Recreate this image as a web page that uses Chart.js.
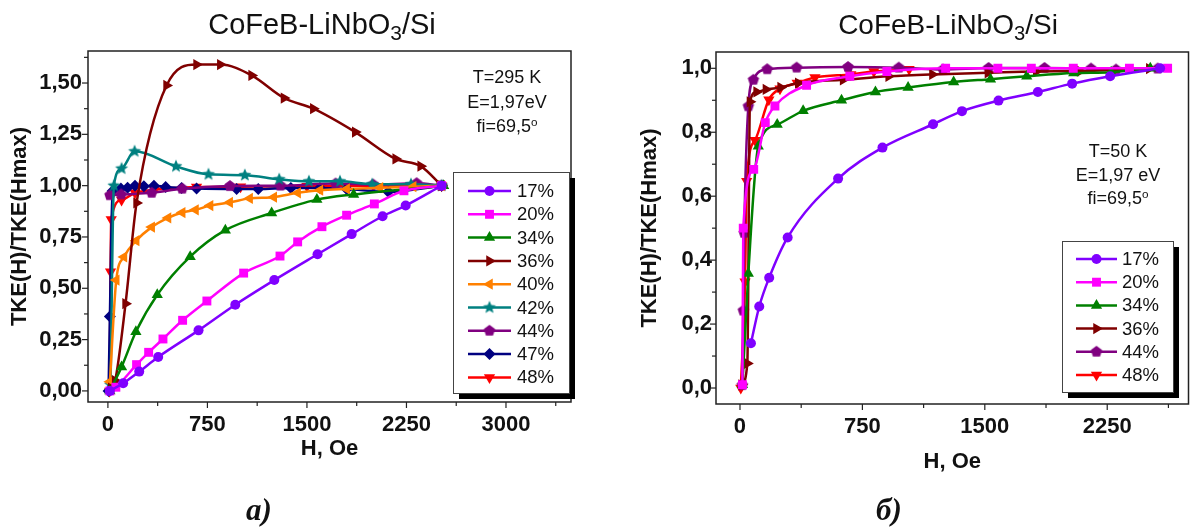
<!DOCTYPE html>
<html>
<head>
<meta charset="utf-8">
<script src="https://cdn.jsdelivr.net/npm/chart.js@4.4.0/dist/chart.umd.min.js"></script>
<style>
  html, body { margin: 0; padding: 0; background: #fff; }
  #wrap { position: relative; width: 1195px; height: 529px; overflow: hidden;
          font-family: "Liberation Sans", Arial, sans-serif; color: #111; }
  canvas { position: absolute; top: 0; }
  .title { position: absolute; font-size: 28px; line-height: 1; white-space: nowrap; transform: translateX(-50%); }
  .title sub { font-size: 0.72em; vertical-align: -0.3em; line-height: 0; }
  .note { position: absolute; font-size: 18px; text-align: center; white-space: nowrap; transform: translateX(-50%); }
  .note .sup { font-size: 0.65em; position: relative; top: -0.55em; }
  .cap { position: absolute; font-family: "Liberation Serif", "Times New Roman", serif; font-weight: bold;
         font-style: italic; font-size: 31px; line-height: 1; transform: translateX(-50%); }
</style>
</head>
<body>
<div id="wrap">
  <canvas id="chartA" width="597" height="529" style="left:0"></canvas>
  <canvas id="chartB" width="597" height="529" style="left:598px"></canvas>

  <div class="title" style="left:322px; top:10px; font-size:29px">CoFeB-LiNbO<sub>3</sub>/Si</div>
  <div class="title" style="left:948px; top:11px">CoFeB-LiNbO<sub>3</sub>/Si</div>

  <div class="note" style="left:507px; top:65px; line-height:24.5px">T=295 K<br>E=1,97eV<br>fi=69,5<span class="sup">o</span></div>
  <div class="note" style="left:1118px; top:140px; line-height:23.5px">T=50 K<br>E=1,97 eV<br>fi=69,5<span class="sup">o</span></div>

  <div class="cap" style="left:259px; top:494px">а)</div>
  <div class="cap" style="left:889px; top:494px">б)</div>
</div>

<script>
// ---------- panel а): T = 295 K ----------
const A_LABELS = ["17%", "20%", "34%", "36%", "40%", "42%", "44%", "47%", "48%"];

const A17_H = [15, 115, 236, 379, 683, 960, 1254, 1580, 1837, 2070, 2244, 2515];
const A17_R = [0.0, 0.037, 0.094, 0.165, 0.295, 0.42, 0.54, 0.666, 0.764, 0.851, 0.903, 1.0];
const A20_H = [15, 60, 216, 307, 415, 563, 746, 1023, 1297, 1430, 1613, 1799, 2008, 2231, 2515];
const A20_R = [0.0, 0.018, 0.128, 0.188, 0.253, 0.344, 0.438, 0.574, 0.657, 0.726, 0.8, 0.856, 0.911, 0.975, 1.0];
const A34_H = [15, 103, 211, 372, 620, 885, 1234, 1575, 1852, 2530];
const A34_R = [0.0, 0.117, 0.288, 0.468, 0.654, 0.783, 0.867, 0.932, 0.957, 1.0];
const A36_H = [25, 55, 133, 216, 442, 668, 847, 1083, 1327, 1548, 1864, 2169, 2357, 2515];
const A36_R = [0.013, 0.05, 0.425, 0.916, 1.488, 1.59, 1.59, 1.537, 1.427, 1.375, 1.261, 1.13, 1.095, 1.0];
const A40_H = [15, 63, 121, 213, 330, 453, 560, 660, 770, 918, 1068, 1250, 1430, 1598, 1799, 2050, 2300, 2515];
const A40_R = [0.045, 0.54, 0.653, 0.732, 0.798, 0.843, 0.869, 0.882, 0.903, 0.918, 0.938, 0.944, 0.965, 0.978, 0.984, 0.99, 0.995, 1.0];
const A42_H = [20, 45, 103, 201, 513, 758, 1032, 1291, 1515, 1749, 1992, 2284, 2515];
const A42_R = [0.03, 1.0, 1.083, 1.167, 1.094, 1.055, 1.051, 1.031, 1.021, 1.021, 1.007, 1.007, 1.0];
const A44_H = [15, 100, 330, 560, 920, 1300, 1716, 2000, 2327, 2515];
const A44_R = [0.953, 0.957, 0.965, 0.985, 0.998, 1.0, 1.01, 1.005, 1.012, 1.0];
const A47_H = [5, 15, 35, 98, 148, 204, 271, 347, 435, 555, 668, 970, 1133, 1379, 1598, 1799, 2113, 2515];
const A47_R = [0.0, 0.362, 0.974, 0.986, 0.99, 1.0, 0.997, 1.0, 0.994, 0.989, 0.986, 0.984, 0.984, 0.989, 0.989, 0.984, 0.97, 1.0];
const A48_H = [13, 20, 25, 103, 204, 350, 668, 1000, 1500, 2000, 2515];
const A48_R = [0.0, 0.58, 0.835, 0.93, 0.965, 0.98, 0.993, 0.995, 0.997, 1.0, 1.0];

const A_X_TICKS = [0, 750, 1500, 2250, 3000];
const A_X_TICK_LABELS = ["0", "750", "1500", "2250", "3000"];
const A_X_MINOR = [375, 1125, 1875, 2625, 3375];
const A_Y_TICKS = [0, 0.25, 0.5, 0.75, 1.0, 1.25, 1.5];
const A_Y_TICK_LABELS = ["0,00", "0,25", "0,50", "0,75", "1,00", "1,25", "1,50"];
const A_Y_MINOR = [0.125, 0.375, 0.625, 0.875, 1.125, 1.375, 1.625];

// ---------- panel б): T = 50 K ----------
const B_LABELS = ["17%", "20%", "34%", "36%", "44%", "48%"];

const B17_H = [67, 118, 179, 292, 601, 873, 1183, 1360, 1584, 1825, 2035, 2268, 2574];
const B17_R = [0.14, 0.255, 0.345, 0.471, 0.655, 0.752, 0.825, 0.866, 0.899, 0.926, 0.952, 0.975, 1.0];
const B20_H = [15, 20, 84, 155, 214, 408, 673, 900, 1260, 1580, 1785, 2042, 2386, 2620];
const B20_R = [0.01, 0.5, 0.684, 0.83, 0.882, 0.947, 0.975, 0.99, 1.0, 1.0, 1.0, 1.0, 1.0, 1.0];
const B34_H = [15, 51, 112, 228, 387, 622, 830, 1030, 1309, 1535, 1757, 2045, 2274, 2514];
const B34_R = [0.01, 0.358, 0.756, 0.824, 0.867, 0.9, 0.926, 0.94, 0.957, 0.966, 0.975, 0.985, 0.988, 1.0];
const B36_H = [10, 45, 61, 102, 159, 249, 357, 632, 911, 1179, 1519, 1815, 2084, 2508];
const B36_R = [0.01, 0.077, 0.895, 0.926, 0.934, 0.94, 0.954, 0.964, 0.975, 0.981, 0.986, 0.99, 0.991, 0.999];
const B44_H = [14, 20, 26, 51, 82, 167, 347, 662, 973, 1244, 1523, 1866, 2151, 2304, 2559];
const B44_R = [0.009, 0.242, 0.485, 0.881, 0.964, 0.997, 1.002, 1.004, 1.002, 0.996, 1.001, 1.001, 0.999, 0.996, 0.999];
const B48_H = [5, 31, 41, 92, 177, 245, 350, 459, 679, 820, 1036];
const B48_R = [0.0, 0.332, 0.647, 0.775, 0.902, 0.936, 0.954, 0.971, 0.981, 0.99, 0.997];

const B_X_TICKS = [0, 750, 1500, 2250];
const B_X_TICK_LABELS = ["0", "750", "1500", "2250"];
const B_X_MINOR = [375, 1125, 1875, 2625];
const B_Y_TICKS = [0, 0.2, 0.4, 0.6, 0.8, 1.0];
const B_Y_TICK_LABELS = ["0,0", "0,2", "0,4", "0,6", "0,8", "1,0"];
const B_Y_MINOR = [0.1, 0.3, 0.5, 0.7, 0.9];

// marker / colour per sample
const STYLE = {
  "17%": { color: "#8000ff", marker: "circle", r: 5 },
  "20%": { color: "#ff00ff", marker: "rect", r: 6.3 },
  "34%": { color: "#008000", marker: "triangle", r: 6.5 },
  "36%": { color: "#800000", marker: "triangle", rot: 90, r: 6.5 },
  "40%": { color: "#ff8000", marker: "triangle", rot: -90, r: 6.5 },
  "42%": { color: "#008080", marker: "star", r: 6.8 },
  "44%": { color: "#800080", marker: "pentagon", r: 6 },
  "47%": { color: "#000080", marker: "rectRot", r: 6 },
  "48%": { color: "#ff0000", marker: "triangle", rot: 180, r: 6.5 }
};

function shapeCanvas(kind, color, r){
  const c = document.createElement("canvas");
  const s = Math.ceil(r * 2 + 2);
  c.width = s; c.height = s;
  const g = c.getContext("2d");
  g.fillStyle = color;
  g.beginPath();
  const n = kind === "star" ? 10 : 5;
  for (let i = 0; i < n; i++){
    const a = -Math.PI / 2 + i * 2 * Math.PI / n;
    const rr = (kind === "star" && i % 2) ? r * 0.45 : r;
    const px = s / 2 + rr * Math.cos(a), py = s / 2 + rr * Math.sin(a);
    if (i) g.lineTo(px, py); else g.moveTo(px, py);
  }
  g.closePath();
  g.fill();
  return c;
}

function makeDataset(label, xs, ys){
  const st = STYLE[label];
  const ps = (st.marker === "star" || st.marker === "pentagon") ? shapeCanvas(st.marker, st.color, st.r) : st.marker;
  return {
    label,
    data: xs.map((x, i) => ({ x, y: ys[i] })),
    borderColor: st.color,
    backgroundColor: st.color,
    borderWidth: 2.5,
    pointStyle: ps,
    pointRotation: st.rot || 0,
    pointRadius: st.r,
    pointBorderWidth: 0,
    pointBackgroundColor: st.color,
    cubicInterpolationMode: "monotone",
    fill: false
  };
}

// frame round the plot, and outward tick marks
const frameTicks = {
  id: "frameTicks",
  afterDraw(chart, args, o){
    const { ctx, chartArea: a, scales: { x, y } } = chart;
    ctx.save();
    ctx.strokeStyle = "#222";
    ctx.lineWidth = 1.5;
    ctx.strokeRect(a.left, a.top, a.right - a.left, a.bottom - a.top);
    ctx.lineWidth = 1.2;
    const seg = (x1, y1, x2, y2) => { ctx.beginPath(); ctx.moveTo(x1, y1); ctx.lineTo(x2, y2); ctx.stroke(); };
    o.xMajor.forEach(v => { const p = x.getPixelForValue(v); seg(p, a.bottom, p, a.bottom + o.major); });
    o.xMinor.forEach(v => { const p = x.getPixelForValue(v); seg(p, a.bottom, p, a.bottom + o.minor); });
    o.yMajor.forEach(v => { const p = y.getPixelForValue(v); seg(a.left, p, a.left - o.major, p); });
    o.yMinor.forEach(v => { const p = y.getPixelForValue(v); seg(a.left, p, a.left - o.minor, p); });
    ctx.restore();
  }
};

// boxed legend with a drop shadow, inside the plot
const boxLegend = {
  id: "boxLegend",
  afterDraw(chart, args, o){
    const ctx = chart.ctx;
    ctx.save();
    ctx.fillStyle = "#000";
    ctx.fillRect(o.x + 6, o.y + 6, o.w, o.h);
    ctx.fillStyle = "#fff";
    ctx.fillRect(o.x, o.y, o.w, o.h);
    ctx.strokeStyle = "#444";
    ctx.lineWidth = 1;
    ctx.strokeRect(o.x + 0.5, o.y + 0.5, o.w, o.h);
    ctx.font = o.fontSize + 'px "Liberation Sans", Arial, sans-serif';
    ctx.textBaseline = "middle";
    chart.data.datasets.forEach((ds, i) => {
      const cy = o.y + o.first + i * o.row;
      ctx.strokeStyle = ds.borderColor;
      ctx.lineWidth = 2.5;
      ctx.beginPath();
      ctx.moveTo(o.x + o.lineFrom, cy);
      ctx.lineTo(o.x + o.lineTo, cy);
      ctx.stroke();
      ctx.fillStyle = ds.backgroundColor;
      Chart.helpers.drawPoint(ctx, { pointStyle: ds.pointStyle, rotation: ds.pointRotation, radius: ds.pointRadius, borderWidth: 0 },
        o.x + (o.lineFrom + o.lineTo) / 2, cy);
      ctx.fillStyle = "#111";
      ctx.fillText(ds.label, o.x + o.textX, cy + 1);
    });
    ctx.restore();
  }
};

function makeChart(id, p){
  const font = (size) => ({ family: '"Liberation Sans", Arial, sans-serif', size, weight: "bold", lineHeight: 1.2 });
  return new Chart(document.getElementById(id), {
    type: "line",
    data: { datasets: p.datasets },
    plugins: [frameTicks, boxLegend],
    options: {
      responsive: false,
      animation: false,
      devicePixelRatio: 1,
      layout: { padding: p.padding },
      plugins: {
        legend: { display: false },
        tooltip: { enabled: false },
        frameTicks: { xMajor: p.xTicks, xMinor: p.xMinor, yMajor: p.yTicks, yMinor: p.yMinor, major: 6, minor: 4 },
        boxLegend: p.legend
      },
      scales: {
        x: {
          type: "linear",
          min: p.xMin, max: p.xMax,
          afterBuildTicks: s => { s.ticks = p.xTicks.map(v => ({ value: v })); },
          afterFit: s => { s.height = p.xHeight; },
          grid: { display: false, drawTicks: false },
          border: { display: false },
          ticks: { callback: (v, i) => p.xLabels[i], font: font(p.tickSize), color: "#111", padding: 10, maxRotation: 0, autoSkip: false },
          title: { display: true, text: "H, Oe", font: font(22), color: "#111", padding: { top: 0, bottom: 0 } }
        },
        y: {
          type: "linear",
          min: p.yMin, max: p.yMax,
          afterBuildTicks: s => { s.ticks = p.yTicks.map(v => ({ value: v })); },
          afterFit: s => { s.width = p.yWidth; },
          grid: { display: false, drawTicks: false },
          border: { display: false },
          ticks: { callback: (v, i) => p.yLabels[i], font: font(p.tickSize), color: "#111", padding: p.yPad, autoSkip: false },
          title: { display: true, text: "TKE(H)/TKE(Hmax)", font: font(22), color: "#111", padding: { top: 0, bottom: 0 } }
        }
      }
    }
  });
}

makeChart("chartA", {
  datasets: [
    makeDataset("17%", A17_H, A17_R),
    makeDataset("20%", A20_H, A20_R),
    makeDataset("34%", A34_H, A34_R),
    makeDataset("36%", A36_H, A36_R),
    makeDataset("40%", A40_H, A40_R),
    makeDataset("42%", A42_H, A42_R),
    makeDataset("44%", A44_H, A44_R),
    makeDataset("47%", A47_H, A47_R),
    makeDataset("48%", A48_H, A48_R)
  ],
  xMin: -150, xMax: 3490, yMin: -0.054, yMax: 1.656,
  xTicks: A_X_TICKS, xLabels: A_X_TICK_LABELS, xMinor: A_X_MINOR,
  yTicks: A_Y_TICKS, yLabels: A_Y_TICK_LABELS, yMinor: A_Y_MINOR,
  padding: { left: 7, top: 51, right: 26, bottom: 67 },
  xHeight: 60, yWidth: 81, yPad: 6, tickSize: 22,
  legend: { x: 453, y: 172, w: 116, h: 221, first: 19, row: 23.3, lineFrom: 15, lineTo: 58, textX: 64, fontSize: 18.5 }
});

makeChart("chartB", {
  datasets: [
    makeDataset("17%", B17_H, B17_R),
    makeDataset("20%", B20_H, B20_R),
    makeDataset("34%", B34_H, B34_R),
    makeDataset("36%", B36_H, B36_R),
    makeDataset("44%", B44_H, B44_R),
    makeDataset("48%", B48_H, B48_R)
  ],
  xMin: -147, xMax: 2748, yMin: -0.05, yMax: 1.051,
  xTicks: B_X_TICKS, xLabels: B_X_TICK_LABELS, xMinor: B_X_MINOR,
  yTicks: B_Y_TICKS, yLabels: B_Y_TICK_LABELS, yMinor: B_Y_MINOR,
  padding: { left: 39, top: 52, right: 6, bottom: 54 },
  xHeight: 71, yWidth: 79, yPad: 4, tickSize: 22,
  legend: { x: 464, y: 241, w: 111, h: 151, first: 18, row: 23.2, lineFrom: 14, lineTo: 55, textX: 60, fontSize: 18.5 }
});
</script>
</body>
</html>
